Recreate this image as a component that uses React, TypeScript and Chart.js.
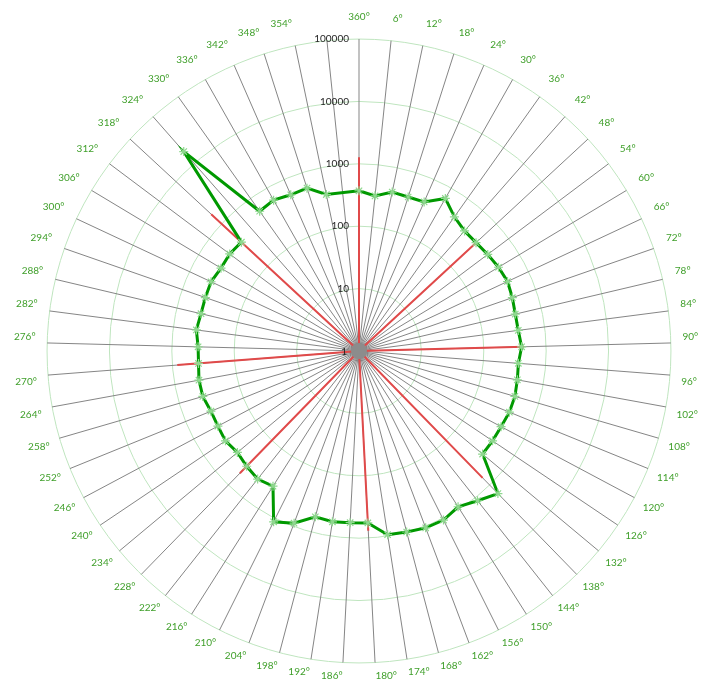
import { useEffect, useRef } from 'react';
import { Chart, registerables } from 'chart.js';

Chart.register(...registerables);

const angleLabels: string[] = [
  '360°', '6°', '12°', '18°', '24°', '30°', '36°', '42°', '48°', '54°',
  '60°', '66°', '72°', '78°', '84°', '90°', '96°', '102°', '108°', '114°',
  '120°', '126°', '132°', '138°', '144°', '150°', '156°', '162°', '168°', '174°',
  '180°', '186°', '192°', '198°', '204°', '210°', '216°', '222°', '228°', '234°',
  '240°', '246°', '252°', '258°', '264°', '270°', '276°', '282°', '288°', '294°',
  '300°', '306°', '312°', '318°', '324°', '330°', '336°', '342°', '348°', '354°',
  '',
];

const greenValues: (number | null)[] = [
  370, 316, 400, 390, 405, 645, 435, 365, 360, 380,
  405, 425, 400, 375, 375, 405, 365, 380, 400, 400,
  380, 380, 380, 1550, 1150, 910, 1070, 1070, 1000, 955,
  575, 570, 590, 560, 890, 1150, 370, 415, 380, 345,
  380, 365, 365, 405, 405, 380, 380, 425, 400, 405,
  415, 380, 390, 370, 18000, 560, 600, 540, 550, 365,
  null,
];

const redValues: number[] = [
  1270, 1, 1, 1, 1, 1, 1, 1, 365, 1,
  1, 1, 1, 1, 1, 440, 1, 1, 1, 1,
  1, 1, 1, 690, 1, 1, 1, 1, 1, 1,
  767, 1, 1, 1, 1, 1, 1, 1, 545, 1,
  1, 1, 1, 1, 1, 835, 1, 1, 1, 1,
  1, 1, 1, 1690, 1, 1, 1, 1, 1, 1,
  1,
];

const centerValues: number[] = [1];

const tickValues: number[] = [1, 10, 100, 1000, 10000, 100000];
const tickLabels: string[] = ['1', '10', '100', '1000', '10000', '100000'];

const FONT = 'Lato, "DejaVu Sans", sans-serif';

const logTickPlugin = {
  id: 'logTicks',
  afterDatasetsDraw(chart: any) {
    const s = chart.scales.r;
    const ctx = chart.ctx;
    ctx.save();
    ctx.font = `10px ${FONT}`;
    ctx.fillStyle = '#262626';
    ctx.textAlign = 'right';
    ctx.textBaseline = 'middle';
    tickValues.forEach((v, i) => {
      const d = s.getDistanceFromCenterForValue(Math.log10(v));
      ctx.fillText(tickLabels[i], s.xCenter - (i === 0 ? 12 : 10), s.yCenter - d + (i === 0 ? 1 : 0));
    });
    ctx.restore();
  },
};

export default function App() {
  const ref = useRef<HTMLCanvasElement | null>(null);

  useEffect(() => {
    if (!ref.current) return;
    const n = angleLabels.length;
    const chart = new Chart(ref.current, {
      type: 'radar',
      data: {
        labels: angleLabels,
        datasets: [
          {
            label: 'Green',
            data: greenValues.map((v) => (v == null ? null : Math.log10(v))),
            borderColor: '#009900',
            borderWidth: 3,
            backgroundColor: 'transparent',
            fill: false,
            pointStyle: 'star',
            pointRadius: 4.5,
            pointBorderWidth: 1.2,
            pointBorderColor: '#8fd88f',
            pointBackgroundColor: 'transparent',
            spanGaps: true,
          },
          {
            label: 'Center',
            data: centerValues.map((v) => Math.log10(v)),
            showLine: false,
            pointStyle: 'circle',
            pointRadius: 8,
            pointBorderWidth: 0,
            pointBackgroundColor: '#8c8c8c',
            pointBorderColor: '#8c8c8c',
          },
          {
            label: 'Red',
            data: redValues.map((v) => Math.log10(v)),
            borderColor: '#e04a4a',
            borderWidth: 2,
            backgroundColor: 'transparent',
            fill: false,
            pointRadius: 0,
          },
        ],
      },
      options: {
        responsive: false,
        animation: false,
        devicePixelRatio: 1,
        layout: { padding: { left: 12, right: 2, top: 2, bottom: 8 } },
        plugins: { legend: { display: false }, tooltip: { enabled: false } },
        scales: {
          r: {
            min: 0,
            max: 5,
            startAngle: 0,
            ticks: { display: false, stepSize: 1 },
            grid: { circular: true, color: '#bfe5bf', lineWidth: 1 },
            angleLines: { color: 'rgba(120,120,120,0.9)', lineWidth: 1 },
            pointLabels: {
              color: '#3f9f2a',
              font: { family: FONT, size: 10 },
              padding: (c: any) => 11.5 + 4.5 * Math.cos((c.index * 2 * Math.PI) / n),
            },
          },
        },
      },
      plugins: [logTickPlugin],
    });
    return () => chart.destroy();
  }, []);

  return (
    <div style={{ position: 'fixed', left: 0, top: 0, width: 704, height: 682, overflow: 'hidden', background: '#fff' }}>
      <canvas ref={ref} width={704} height={700} style={{ display: 'block' }} />
    </div>
  );
}
